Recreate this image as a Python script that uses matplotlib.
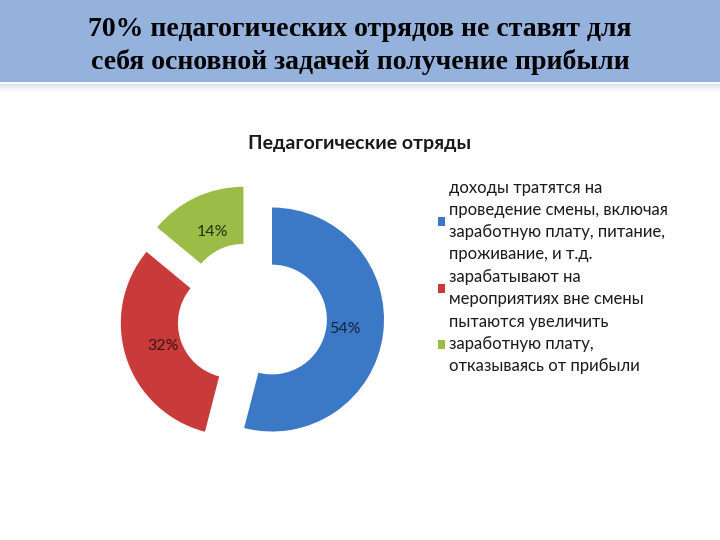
import matplotlib
matplotlib.use("Agg")
import matplotlib.pyplot as plt
from matplotlib.patches import Rectangle

# data
labels = ["доходы тратятся на\nпроведение смены, включая\nзаработную плату, питание,\nпроживание, и т.д.",
          "зарабатывают на\nмероприятиях вне смены",
          "пытаются увеличить\nзаработную плату,\nотказываясь от прибыли"]
values = [54, 32, 14]
colors = ["#3b78c6", "#c93a3a", "#9bbd48"]
pct_colors = ["#14233f", "#3a1414", "#24320f"]

slide_title = "70% педагогических отрядов не ставят для\nсебя основной задачей получение прибыли"
chart_title = "Педагогические отряды"

W, H = 720, 540
fig = plt.figure(figsize=(7.2, 5.4), dpi=100)
fig.patch.set_facecolor("white")

# banner at the top
fig.add_artist(Rectangle((0, 1 - 82 / H), 1, 82 / H, transform=fig.transFigure,
                         facecolor="#95b2dd", edgecolor="none"))
for i, c in enumerate(["#dfe4ea", "#e9edf1", "#f2f4f6", "#f8f9fa"]):
    fig.add_artist(Rectangle((0, 1 - (84 + 2 * i + 2) / H), 1, 2 / H, transform=fig.transFigure,
                             facecolor=c, edgecolor="none"))
fig.text(0.5, 1 - 46 / H, slide_title, ha="center", va="center", fontsize=20,
         fontweight="bold", family="Liberation Serif", linespacing=1.37)

fig.text(0.5, 1 - 143 / H, chart_title, ha="center", va="center", fontsize=14,
         fontweight="bold", family="Lato", color="#1a1a1a")

# donut: centre (252, 317) px, outer radius 112 px
R = 112
half = 150
ax = fig.add_axes([(252 - half) / W, (H - 317 - half) / H, 2 * half / W, 2 * half / H])
wedges, texts, autotexts = ax.pie(values, colors=colors, startangle=90, counterclock=False,
                                  explode=[0.18] * 3, autopct="%d%%", pctdistance=0.66,
                                  wedgeprops=dict(width=0.51, edgecolor="none"),
                                  textprops=dict(fontsize=11.5, family="Lato"))
for t, c in zip(autotexts, pct_colors):
    t.set_color(c)
lim = half / R
ax.set_xlim(-lim, lim)
ax.set_ylim(-lim, lim)
ax.set_aspect("equal")
ax.axis("off")

leg = fig.legend(wedges, labels, loc="upper left", bbox_to_anchor=(438 / W, 1 - 180 / H),
                 frameon=False, handlelength=0.4, handleheight=0.4, handletextpad=0.25,
                 labelspacing=0.42, borderpad=0, borderaxespad=0,
                 prop=dict(family="Lato", size=12))
for t in leg.get_texts():
    t.set_linespacing(1.46)
    t.set_color("#1a1a1a")

fig.savefig("out.png", dpi=100)
